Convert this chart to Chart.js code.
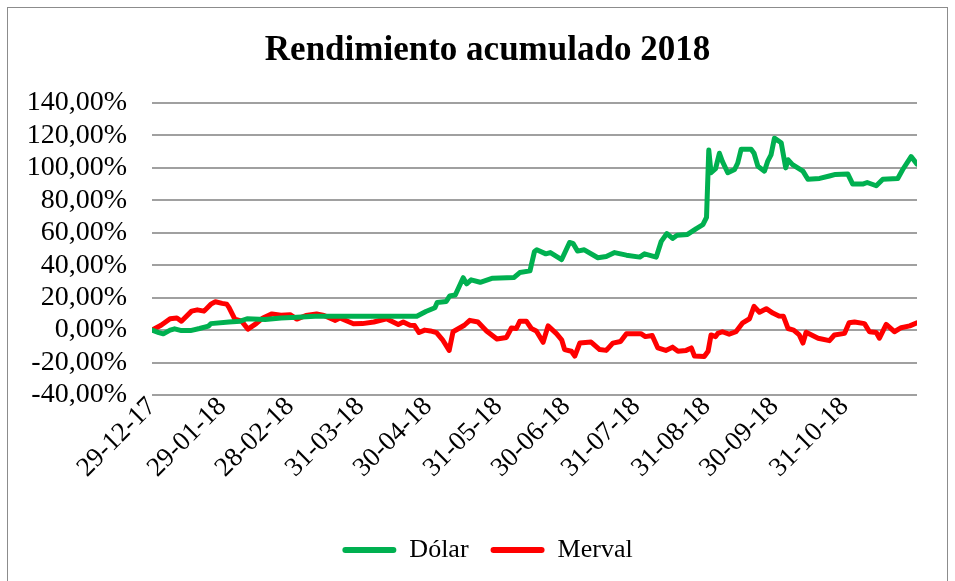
<!DOCTYPE html>
<html>
<head>
<meta charset="utf-8">
<title>Rendimiento acumulado 2018</title>
<script src="https://cdn.jsdelivr.net/npm/chart.js@4/dist/chart.umd.min.js"></script>
<style>
  body { margin: 0; background: #fff; }
  #wrap { position: relative; width: 955px; height: 581px; overflow: hidden; }
  #frame { position: absolute; left: 7px; top: 7px; width: 939px; height: 600px; border: 1px solid #8c8c8c; }
  #chart { position: absolute; left: 0; top: 0; }
</style>
</head>
<body>
<div id="wrap">
  <div id="frame"></div>
  <canvas id="chart" width="955" height="581"></canvas>
</div>
<script>
// días desde 29-12-17 y rendimiento acumulado (%)
const tickDays = [0, 31, 61, 92, 122, 153, 183, 214, 245, 275, 306];
const tickLabels = ["29-12-17", "29-01-18", "28-02-18", "31-03-18", "30-04-18", "31-05-18",
                    "30-06-18", "31-07-18", "31-08-18", "30-09-18", "31-10-18"];

const dolarDays = [0, 3, 5, 8, 10, 13, 17, 21, 25, 26, 34, 39, 42, 50, 57, 64, 72, 84, 98, 117,
  121, 125, 126, 130, 131.5, 134, 137.5, 139, 141, 145, 150.5, 160, 162.5, 167, 169, 170, 174, 176,
  181, 184.5, 186, 188, 191, 197, 200.7, 204.4, 209.6, 215.5, 217.6, 222.8, 225, 227.5, 230, 232,
  236.6, 240.5, 243.4, 245, 246, 247, 249, 250.7, 252, 254.4, 257.4, 258.8, 260.3, 264.7, 266,
  267.7, 270.6, 272, 273.5, 275, 278, 280, 281, 283, 287.6, 289.8, 295, 299.3, 302, 307.4, 309.6,
  314, 316, 320, 322.9, 329.5, 331.7, 335.4, 338];
const dolarVals = [0, -1.5, -2.3, 0, 0.8, -0.3, -0.3, 1, 2.5, 4, 5, 5.5, 7, 6.5, 7.5, 8, 8.5, 8.6, 8.6, 8.6,
  11.5, 13.8, 17, 17.7, 21, 21.6, 32.3, 28.5, 31, 29.5, 32, 32.5, 35.5, 36.5, 48.5, 49.5, 47, 47.8,
  43.5, 54, 53.5, 48.7, 49.5, 44.6, 45.4, 47.8, 46.2, 45, 47, 45, 54.7, 59.5, 56.5, 58.5,
  59, 62.6, 65, 69.5, 111, 97, 99.5, 109, 104, 97, 99, 103, 111.5, 111.5, 109,
  101, 98, 104, 108, 118.3, 115.5, 100, 105, 102, 98, 93, 93.5, 95, 96, 96.3, 90,
  90, 91, 89, 93, 93.5, 99, 107, 102.3];

const mervalDays = [0, 4, 8, 11, 13, 17.5, 20, 23, 26, 28, 31, 33, 34, 36.6, 39.6, 42.4, 46, 49, 53, 57,
  61, 64, 68, 72.7, 76, 81, 83, 89, 93, 98, 103.6, 108.8, 111, 114, 116, 118, 120.5, 123, 125.7,
  128.3, 131.3, 133, 138, 140.4, 144, 147.8, 152.4, 156.6, 158.8, 161, 162.5, 165.4, 167.6, 169.8,
  172.8, 175, 178.7, 181, 182.3, 185.3, 186.8, 189, 194, 197.8, 200.7, 203.6, 207, 209.6, 216, 218,
  221, 223.5, 227, 230, 232.4, 236, 238.3, 239.7, 244, 245.7, 247, 249, 250, 252, 255, 258, 261,
  264, 266, 268.4, 271.4, 274.3, 277, 279, 281, 283.5, 286, 287.6, 289, 294.3, 299.3, 301.5, 306,
  308, 310.4, 314.8, 317, 320, 321.4, 324.4, 328, 331, 334.8, 338];
const mervalVals = [0, 3, 7, 7.5, 5.5, 11.7, 12.5, 11.7, 16, 17.5, 16.5, 16, 14, 6.8, 5.5, 0.6, 4, 7.5, 10, 9.2,
  9.5, 6.8, 9, 10, 9, 6, 7.5, 3.9, 4, 5, 7, 3.5, 5, 3, 2.8, -1.5, 0, -0.5, -1.5,
  -5.8, -12.5, -1, 3, 6, 5, -0.5, -5.5, -4.5, 1.3, 1, 5.5, 5.5, 1, -0.5,
  -7.5, 2.6, -2.2, -6, -12, -13, -16, -8, -7.4, -12, -12.5, -8, -7, -2.2, -2.2, -4,
  -3.3, -11, -12.5, -10.5, -13, -12.5, -11, -16, -16.3, -13, -3, -4, -2, -1, -2.5, -1, 4.5,
  7, 14.6, 11, 13.2, 10.5, 8.7, 8.5, 1, 0, -3, -8, -1.3, -5, -6.5, -3, -2,
  4.5, 5, 4, -1, -1.5, -5, 3.5, -1, 1.5, 2.6, 4.5];

const FONT = "'Liberation Serif', 'Times New Roman', serif";
const toPoints = (days, vals) => days.map((d, i) => ({ x: d, y: vals[i] }));

new Chart(document.getElementById("chart"), {
  type: "line",
  data: {
    datasets: [
      { label: "Dólar", data: toPoints(dolarDays, dolarVals), borderColor: "#00b050", backgroundColor: "#00b050" },
      { label: "Merval", data: toPoints(mervalDays, mervalVals), borderColor: "#ff0000", backgroundColor: "#ff0000" }
    ]
  },
  options: {
    responsive: false,
    animation: false,
    layout: { padding: { left: 20, right: 0, top: 0, bottom: 8 } },
    elements: {
      point: { radius: 0, hoverRadius: 0 },
      line: { borderWidth: 5, tension: 0, borderJoinStyle: "round", borderCapStyle: "round" }
    },
    scales: {
      x: {
        type: "linear",
        min: 0,
        max: 338,
        afterBuildTicks: axis => { axis.ticks = tickDays.map(v => ({ value: v })); },
        afterFit: axis => { axis.height = 120; },
        grid: { display: false },
        border: { display: false },
        ticks: {
          autoSkip: false,
          minRotation: 45,
          maxRotation: 45,
          padding: -12,
          color: "#000",
          font: { family: FONT, size: 27 },
          callback: (v, i) => tickLabels[i]
        }
      },
      y: {
        min: -40,
        max: 140,
        afterFit: axis => { axis.width = 132; },
        grid: { color: "#a0a0a0", lineWidth: 2, drawTicks: false },
        border: { display: false },
        ticks: {
          autoSkip: false,
          stepSize: 20,
          padding: 25,
          color: "#000",
          font: { family: FONT, size: 28 },
          callback: v => v.toFixed(2).replace(".", ",") + "%"
        }
      },
      // espacio vacío a la derecha del área de trazado
      margen: {
        position: "right",
        afterFit: axis => { axis.width = 38; },
        grid: { display: false },
        border: { display: false },
        ticks: { display: false }
      }
    },
    plugins: {
      tooltip: { enabled: false },
      title: {
        display: true,
        text: "Rendimiento acumulado 2018",
        color: "#000",
        font: { family: FONT, size: 35, weight: "bold" },
        padding: { top: 30, bottom: 31 }
      },
      legend: {
        position: "bottom",
        labels: {
          color: "#000",
          font: { family: FONT, size: 26 },
          boxWidth: 54,
          boxHeight: 6,
          useBorderRadius: true,
          borderRadius: 3,
          padding: 22,
          generateLabels: chart =>
            Chart.defaults.plugins.legend.labels.generateLabels(chart).map(item => ({
              ...item, lineWidth: 0, fillStyle: item.strokeStyle
            }))
        }
      }
    }
  }
});
</script>
</body>
</html>
